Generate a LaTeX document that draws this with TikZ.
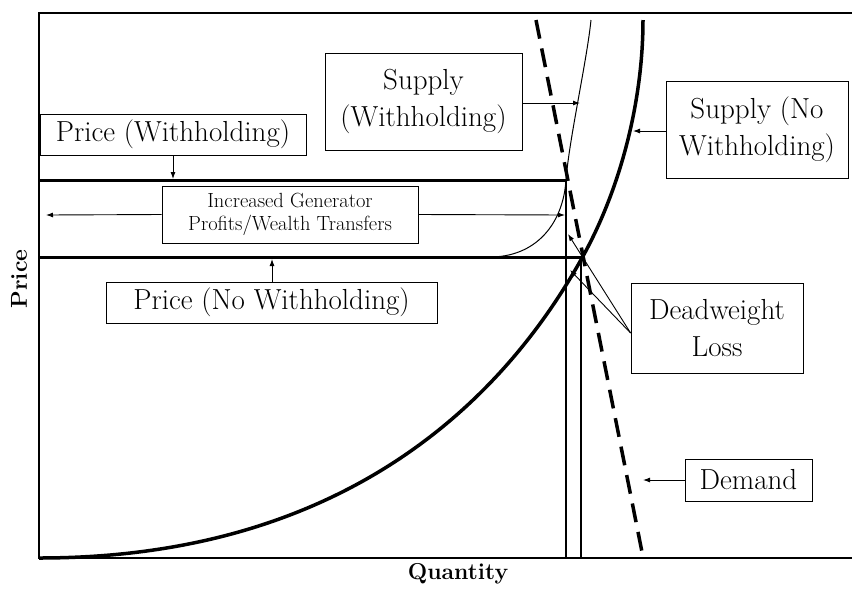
\documentclass[tikz,border=0pt]{standalone}
\usepackage{tikz}
\usetikzlibrary{arrows.meta, positioning, calc}

\begin{document}
\begin{tikzpicture}[x=1pt,y=-1pt,
  lbl/.style={draw,line width=0.8pt,fill=white,align=center,inner sep=0pt,font=\fontsize{29}{37}\selectfont},
  small/.style={lbl,font=\fontsize{20.5}{23}\selectfont},
  axislbl/.style={font=\fontsize{23}{26}\selectfont\bfseries},
  arrow/.style={-{Latex[length=7pt,width=5pt]},line width=0.9pt},
  pline/.style={line width=3pt},
  qline/.style={line width=1.2pt},
  supply/.style={line width=3.5pt},
  supplyw/.style={line width=1pt},
  demand/.style={line width=3.5pt,dash pattern=on 19pt off 10pt}]
  \useasboundingbox (0,0) rectangle (852,590);

  \draw[line width=1.3pt] (852,13) -- (39,13) -- (39,558) -- (852,558);
  \node[axislbl,rotate=90] (plab) at (19,279) {Price};
  \node[axislbl] (qlab) at (458,574) {Quantity};

  \draw[pline] (39,180) -- (566,180);
  \draw[pline] (39,257) -- (582,257);
  \draw[qline] (566,180) -- (566,558);
  \draw[qline] (581,257) -- (581,558);

  \draw[supplyw] (480,257) -- (490,257) .. controls (535,257) and (563,225) .. (566,180)
    .. controls (569,140) and (587,60) .. (591,20);
  \draw[supply] (39,558) .. controls (370,558) and (518,373) .. (582,258)
    .. controls (621,188) and (643,100) .. (643,20);
  \draw[demand] (536,20) -- (642,552);

  \node[lbl,minimum width=266,minimum height=41] (pw) at (173,134.5) {Price (Withholding)};
  \node[lbl,minimum width=197,minimum height=97] (sw) at (423.5,101.5) {Supply\\(Withholding)};
  \node[lbl,minimum width=182,minimum height=97] (snw) at (757,129.5) {Supply (No\\Withholding)};
  \node[small,minimum width=256,minimum height=57] (igp) at (290,214.5) {Increased Generator\\Profits/Wealth Transfers};
  \node[lbl,minimum width=331,minimum height=41] (pnw) at (271.5,302.5) {Price (No Withholding)};
  \node[lbl,minimum width=172,minimum height=90] (dwl) at (717,328) {Deadweight\\Loss};
  \node[lbl,minimum width=127,minimum height=42] (dem) at (748.5,480) {Demand};

  \coordinate (pwtip) at (173,179);
  \coordinate (pnwtip) at (272,259);
  \coordinate (swtip) at (580,103);
  \coordinate (snwtip) at (633,131);
  \coordinate (igl) at (46,215);
  \coordinate (igr) at (565,215);
  \coordinate (dwa) at (568,234);
  \coordinate (dwb) at (570,270);
  \coordinate (demtip) at (643,480);

  \draw[arrow] (pw.south) -- (pw.south |- pwtip);
  \draw[arrow] (pnw.north -| pnwtip) -- (pnwtip);
  \draw[arrow] (sw.east |- swtip) -- (swtip);
  \draw[arrow] (snw.west |- snwtip) -- (snwtip);
  \draw[arrow] (igp.west) -- (igl);
  \draw[arrow] (igp.east) -- (igr);
  \draw[arrow] ([yshift=-5pt]dwl.west) -- (dwa);
  \draw[arrow] ([yshift=-5pt]dwl.west) -- (dwb);
  \draw[arrow] (dem.west) -- (demtip);
\end{tikzpicture}
\end{document}
